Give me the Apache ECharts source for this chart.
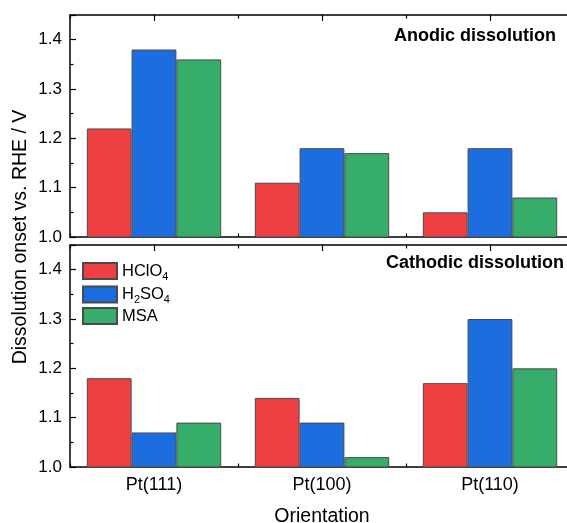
<!DOCTYPE html>
<html>
<head>
<meta charset="utf-8">
<script src="https://cdn.jsdelivr.net/npm/echarts@6/dist/echarts.min.js"></script>
<style>
html,body{margin:0;padding:0;background:#fff;}
#chart{width:567px;height:523px;}
</style>
</head>
<body>
<div id="chart"></div>
<script>
const categories = ['Pt(111)', 'Pt(100)', 'Pt(110)'];
const seriesNames = ['HClO4', 'H2SO4', 'MSA'];
const anodicHClO4 = [1.22, 1.11, 1.05];
const anodicH2SO4 = [1.38, 1.18, 1.18];
const anodicMSA = [1.36, 1.17, 1.08];
const cathodicHClO4 = [1.18, 1.14, 1.17];
const cathodicH2SO4 = [1.07, 1.09, 1.30];
const cathodicMSA = [1.09, 1.02, 1.20];
const yTicks = [1.0, 1.1, 1.2, 1.3, 1.4];
const yMin = 1.0, yMax = 1.45, yStep = 0.1;
const panelTitles = ['Anodic dissolution', 'Cathodic dissolution'];
const yTitle = 'Dissolution onset vs. RHE / V';
const xTitle = 'Orientation';

const colors = ['#EE4042', '#1C6EE0', '#36AD6A'];
const FONT = '"Liberation Sans", Arial, sans-serif';
const chart = echarts.init(document.getElementById('chart'), null, {renderer: 'canvas'});

const grids = [
  {left: 70, width: 504, top: 15, height: 222, outerBoundsMode: 'none', containLabel: false},
  {left: 70, width: 504, top: 245, height: 222, outerBoundsMode: 'none', containLabel: false}
];

const xAxes = [];
const yAxes = [];
[0, 1].forEach(g => {
  xAxes.push({
    type: 'category', gridIndex: g, position: 'bottom', data: categories,
    axisLine: {show: true, lineStyle: {color: '#000', width: 1.5}},
    axisTick: {show: true, inside: true, alignWithLabel: true, length: 6, lineStyle: {color: '#000', width: 1.2}},
    axisLabel: {show: g === 1, color: '#000', fontSize: 18, fontFamily: FONT, margin: 9},
    name: g === 1 ? xTitle : '', nameLocation: 'middle', nameGap: 40,
    nameTextStyle: {color: '#000', fontSize: 19.5, fontFamily: FONT},
    splitLine: {show: false}
  });
  xAxes.push({
    type: 'category', gridIndex: g, position: 'top', data: categories,
    axisLine: {show: true, lineStyle: {color: '#000', width: 1.5}},
    axisTick: {show: true, inside: true, alignWithLabel: true, length: 6, lineStyle: {color: '#000', width: 1.2}},
    axisLabel: {show: false}, splitLine: {show: false}
  });
  xAxes.push({
    type: 'category', gridIndex: g, position: 'bottom', data: categories,
    axisLine: {show: false},
    axisTick: {show: true, inside: true, length: 3.5, lineStyle: {color: '#000', width: 1.2}},
    axisLabel: {show: false}, splitLine: {show: false}
  });
  xAxes.push({
    type: 'category', gridIndex: g, position: 'top', data: categories,
    axisLine: {show: false},
    axisTick: {show: true, inside: true, length: 3.5, lineStyle: {color: '#000', width: 1.2}},
    axisLabel: {show: false}, splitLine: {show: false}
  });
  yAxes.push({
    type: 'value', gridIndex: g, position: 'left', min: yMin, max: yMax, interval: yStep,
    axisLine: {show: true, lineStyle: {color: '#000', width: 1.5}},
    axisTick: {show: true, inside: true, length: 6, lineStyle: {color: '#000', width: 1.2}},
    minorTick: {show: true, splitNumber: 2, length: 3.5, lineStyle: {color: '#000', width: 1.2}},
    splitLine: {show: false}, minorSplitLine: {show: false},
    axisLabel: {
      color: '#000', fontSize: 17, fontFamily: FONT, margin: 8, showMaxLabel: false,
      formatter: v => (yTicks.some(t => Math.abs(t - v) < 1e-6) ? v.toFixed(1) : '')
    }
  });
});

const panelData = [
  [anodicHClO4, anodicH2SO4, anodicMSA],
  [cathodicHClO4, cathodicH2SO4, cathodicMSA]
];
const series = [];
panelData.forEach((sets, g) => {
  sets.forEach((d, i) => {
    series.push({
      type: 'bar', name: seriesNames[i], xAxisIndex: g * 4, yAxisIndex: g, data: d,
      barGap: '0%', barCategoryGap: '20%',
      itemStyle: {color: colors[i], borderColor: '#4a4a4a', borderWidth: 1},
      emphasis: {disabled: true}
    });
  });
});

const legendLabels = {HClO4: '{n|HClO}{s|4}', H2SO4: '{n|H}{s|2}{n|SO}{s|4}', MSA: '{n|MSA}'};

chart.setOption({
  animation: false,
  backgroundColor: '#fff',
  textStyle: {fontFamily: FONT},
  grid: grids,
  xAxis: xAxes,
  yAxis: yAxes,
  series: series,
  title: [
    {text: panelTitles[0], right: 11, top: 27, padding: 0,
     textStyle: {fontSize: 18, fontWeight: 'bold', color: '#000', fontFamily: FONT}},
    {text: panelTitles[1], right: 3, top: 254, padding: 0,
     textStyle: {fontSize: 18, fontWeight: 'bold', color: '#000', fontFamily: FONT}}
  ],
  legend: {
    data: seriesNames, orient: 'vertical', left: 82, top: 260, padding: 0,
    icon: 'rect',
    itemWidth: 34, itemHeight: 16, itemGap: 1.5,
    formatter: name => legendLabels[name],
    textStyle: {
      color: '#000', fontFamily: FONT,
      rich: {
        n: {fontSize: 16.5, lineHeight: 22, fontFamily: FONT, color: '#000'},
        s: {fontSize: 11, lineHeight: 11, fontFamily: FONT, color: '#000', padding: [11, 0, 0, 0]}
      }
    }
  },
  graphic: [{
    type: 'text', x: 21, y: 237, rotation: Math.PI / 2,
    style: {text: yTitle, fontSize: 19.5, fontFamily: FONT, fill: '#000', align: 'center', verticalAlign: 'middle'}
  }]
});
</script>
</body>
</html>
